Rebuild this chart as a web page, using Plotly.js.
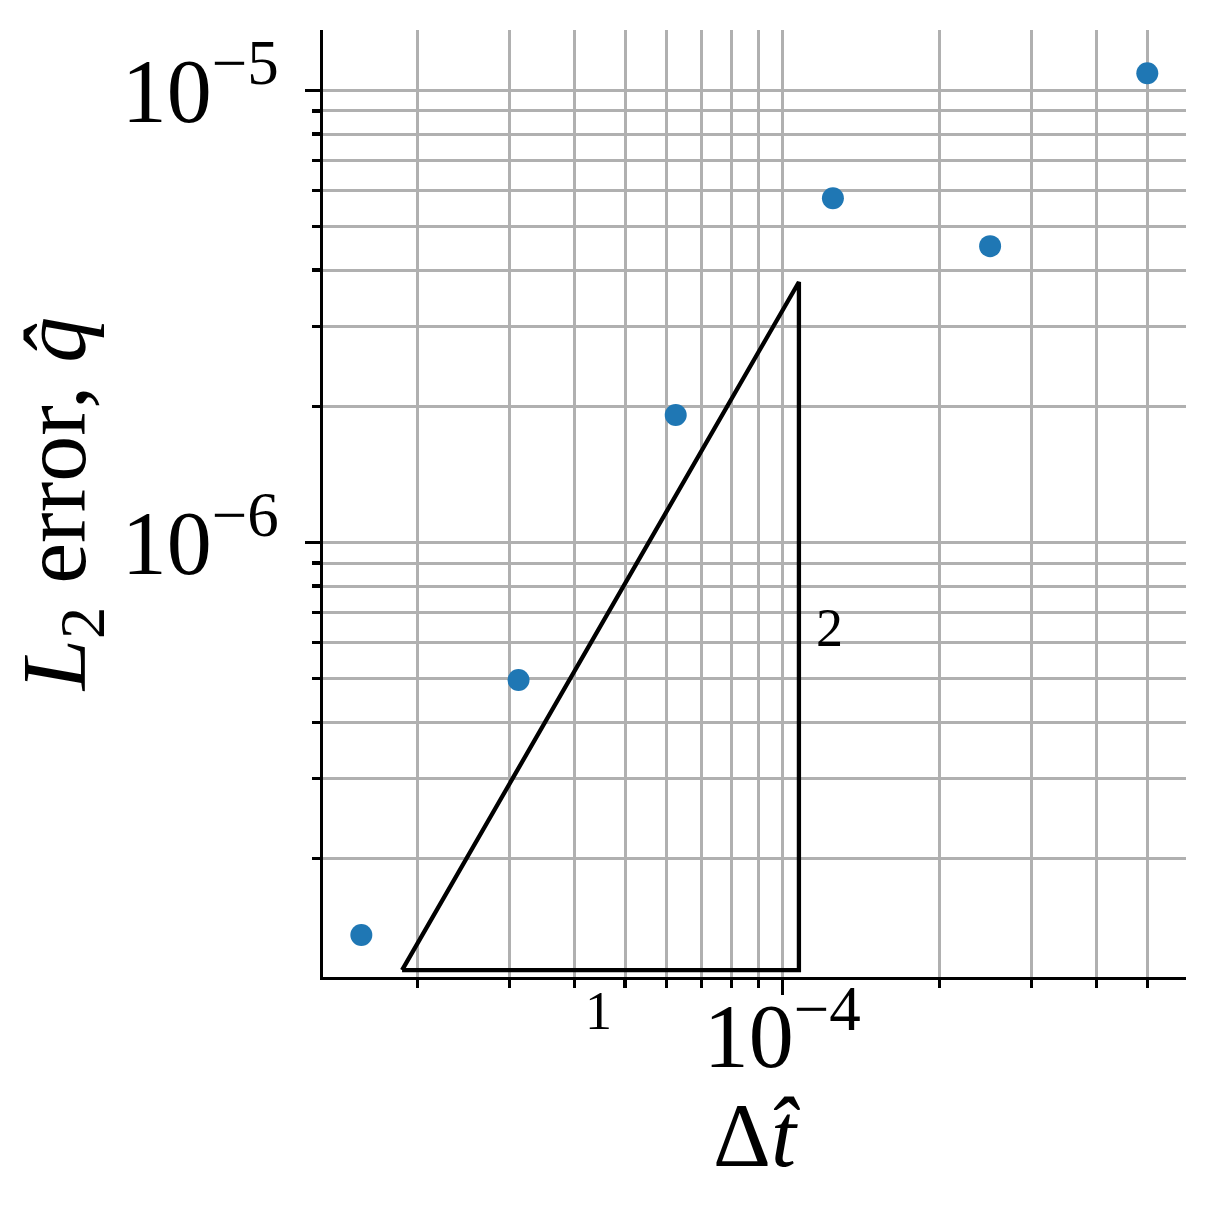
<!DOCTYPE html>
<html>
<head>
<meta charset="utf-8">
<script src="https://cdn.plot.ly/plotly-3.0.1.min.js"></script>
<style>html,body{margin:0;padding:0;background:#fff;}</style>
</head>
<body>
<div id="chart" style="width:1216px;height:1216px;"></div>
<script>
// Data
const dtValues = [1.5625e-5, 3.125e-5, 6.25e-5, 1.25e-4, 2.5e-4, 5e-4];
const l2Errors = [1.353e-7, 4.96e-7, 1.912e-6, 5.77e-6, 4.52e-6, 1.09e-5];

// Slope triangle (order 2 reference)
const triangleX = [1.87e-5, 1.076e-4, 1.076e-4, 1.87e-5];
const triangleY = [1.132e-7, 1.132e-7, 3.765e-6, 1.132e-7];
const slopeLabels = ["1", "2"];
const slopeLabelX = [4.44e-5, 1.23e-4];
const slopeLabelY = [null, 6.45e-7];

// Ticks
const xMajorTicks = [1e-4];
const xMajorText = ["10<sup>−4</sup>"];
const xMinorTicks = [2e-5, 3e-5, 4e-5, 5e-5, 6e-5, 7e-5, 8e-5, 9e-5, 2e-4, 3e-4, 4e-4, 5e-4];
const yMajorTicks = [1e-6, 1e-5];
const yMajorText = ["10<sup>−6</sup>", "10<sup>−5</sup>"];
const yMinorTicks = [2e-7, 3e-7, 4e-7, 5e-7, 6e-7, 7e-7, 8e-7, 9e-7, 2e-6, 3e-6, 4e-6, 5e-6, 6e-6, 7e-6, 8e-6, 9e-6];

const FONT = "Liberation Serif, DejaVu Serif, serif";
const GRID = "#b0b0b0";

const traces = [
  {
    x: triangleX, y: triangleY, type: "scatter", mode: "lines",
    line: {color: "black", width: 4.3}, hoverinfo: "skip", showlegend: false
  },
  {
    x: dtValues, y: l2Errors, type: "scatter", mode: "markers",
    marker: {color: "#1f77b4", size: 22}, showlegend: false, cliponaxis: false
  }
];

const axisCommon = {
  type: "log",
  showline: true, linecolor: "black", linewidth: 3.3, mirror: false,
  zeroline: false,
  ticks: "outside", ticklen: 15, tickwidth: 3.3, tickcolor: "black",
  showgrid: true, gridcolor: GRID, gridwidth: 3,
  tickfont: {family: FONT, size: 90, color: "black"},
  tickmode: "array"
};

const layout = {
  width: 1216, height: 1216,
  margin: {l: 323, r: 30, t: 30, b: 239},
  paper_bgcolor: "white", plot_bgcolor: "white",
  showlegend: false,
  xaxis: Object.assign({}, axisCommon, {
    range: [-4.8796, -3.2269],
    tickvals: xMajorTicks, ticktext: xMajorText,
    ticklabelstandoff: -36,
    minor: {tickmode: "array", tickvals: xMinorTicks, ticks: "outside", ticklen: 8, tickwidth: 3.3, tickcolor: "black",
            showgrid: true, gridcolor: GRID, gridwidth: 3},
    title: {text: "Δ<i>t̂</i>", font: {family: FONT, size: 90, color: "black"}, standoff: 0}
  }),
  yaxis: Object.assign({}, axisCommon, {
    range: [-6.9615, -4.8668],
    tickvals: yMajorTicks, ticktext: yMajorText,
    ticklabelstandoff: 8,
    minor: {tickmode: "array", tickvals: yMinorTicks, ticks: "outside", ticklen: 8, tickwidth: 3.3, tickcolor: "black",
            showgrid: true, gridcolor: GRID, gridwidth: 3},
    title: {text: "<i>L</i><sub>2</sub> error, <i>q̂</i>", font: {family: FONT, size: 92, color: "black"}, standoff: 6}
  }),
  annotations: [
    {text: slopeLabels[0], x: Math.log10(slopeLabelX[0]), y: -0.036, xref: "x", yref: "paper",
     showarrow: false, font: {family: FONT, size: 54, color: "black"}, xanchor: "center", yanchor: "middle"},
    {text: slopeLabels[1], x: Math.log10(slopeLabelX[1]), y: Math.log10(slopeLabelY[1]), xref: "x", yref: "y",
     showarrow: false, font: {family: FONT, size: 54, color: "black"}, xanchor: "center", yanchor: "middle"}
  ]
};

Plotly.newPlot("chart", traces, layout, {displayModeBar: false, staticPlot: true});
</script>
</body>
</html>
